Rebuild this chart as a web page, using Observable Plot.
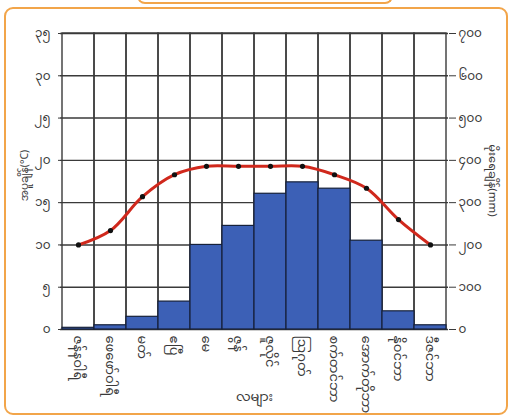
<!DOCTYPE html>
<html>
<head>
<meta charset="utf-8">
<script src="https://cdn.jsdelivr.net/npm/d3@7"></script>
<script src="https://cdn.jsdelivr.net/npm/@observablehq/plot@0.6"></script>
<style>
  html, body { margin: 0; padding: 0; background: #ffffff; }
  #wrap { position: relative; width: 511px; height: 417px; overflow: hidden; background: #fff; }
  #box { position: absolute; left: 4px; top: 7px; width: 500px; height: 404px; border: 2px solid #f2a54a; border-radius: 9px; background: #fff; }
  #tab { position: absolute; left: 137px; top: -4px; width: 252px; height: 6px; border: 2px solid #f2a54a; border-top: none; border-radius: 0 0 10px 10px; background: #fff; }
  #chart { position: absolute; left: 0; top: 0; }
  svg { font-family: "Noto Sans Myanmar", "Padauk", "Myanmar Text", "Noto Sans", sans-serif; }
</style>
</head>
<body>
<div id="wrap">
  <div id="box"></div>
  <div id="tab"></div>
  <div id="chart"></div>
</div>
<script>
const months = ["ဇန်နဝါရီ","ဖေဖော်ဝါရီ","မတ်","ဧပြီ","မေ","ဇွန်","ဇူလိုင်","ဩဂုတ်","စက်တင်ဘာ","အောက်တိုဘာ","နိုဝင်ဘာ","ဒီဇင်ဘာ"];
const temperature = [10, 11.7, 15.7, 18.3, 19.3, 19.3, 19.3, 19.3, 18.3, 16.7, 13, 10];
const rainfall = [4, 10, 30, 66, 200, 245, 321, 348, 333, 210, 43, 10];
const tempTicks = [0, 5, 10, 15, 20, 25, 30, 35];
const rainTicks = [0, 100, 200, 300, 400, 500, 600, 700];
const tempLabel = "အပူချိန်(°C)";
const rainLabel = "မိုးရေချိန်(mm)";
const monthLabel = "လများ";

const my = n => String(n).replace(/\d/g, d => "၀၁၂၃၄၅၆၇၈၉"[+d]);
const ratio = rainTicks[rainTicks.length - 1] / tempTicks[tempTicks.length - 1];
const data = months.map((m, i) => ({month: m, temp: temperature[i], rain: rainfall[i]}));

const chart = Plot.plot({
  width: 511,
  height: 417,
  marginLeft: 60,
  marginRight: 63,
  marginTop: 33,
  marginBottom: 88,
  style: {background: "transparent", fontSize: "11px", color: "#3a3a3a"},
  x: {type: "band", domain: months, padding: 0},
  y: {domain: [0, 35]},
  marks: [
    Plot.gridY(tempTicks, {stroke: "#3a3a3a", strokeOpacity: 1, strokeWidth: 1.4}),
    Plot.barY(months, {x: d => d, y: 35, fill: "none", stroke: "#3a3a3a", strokeWidth: 1.4}),
    Plot.barY(data, {x: "month", y: d => d.rain / ratio, fill: "#3c60b6", stroke: "#16213a", strokeWidth: 1.2}),
    Plot.line(data, {x: "month", y: "temp", stroke: "#d0281c", strokeWidth: 3, curve: "catmull-rom"}),
    Plot.dot(data, {x: "month", y: "temp", r: 2.6, fill: "#111", stroke: "none"}),
    Plot.axisY({ticks: tempTicks, tickFormat: my, tickSize: 2, tickPadding: 8, label: null, fontSize: 12}),
    Plot.axisY({anchor: "right", ticks: tempTicks, tickFormat: d => my(d * ratio), tickSize: 7, tickPadding: 3, label: null, fontSize: 12}),
    Plot.axisX({tickRotate: 90, tickSize: 0, tickPadding: 6, label: null, fontSize: 13}),
    Plot.text([tempLabel], {frameAnchor: "left", textAnchor: "middle", dx: -36, dy: -6, rotate: -90, fontSize: 10.5, fill: "#3a3a3a"}),
    Plot.text([rainLabel], {frameAnchor: "right", textAnchor: "middle", dx: 44, dy: -1, rotate: 90, fontSize: 11.5, fill: "#3a3a3a"}),
    Plot.text([monthLabel], {frameAnchor: "bottom", dy: 71, fontSize: 13, fill: "#3a3a3a"})
  ]
});
document.getElementById("chart").appendChild(chart);
</script>
</body>
</html>
